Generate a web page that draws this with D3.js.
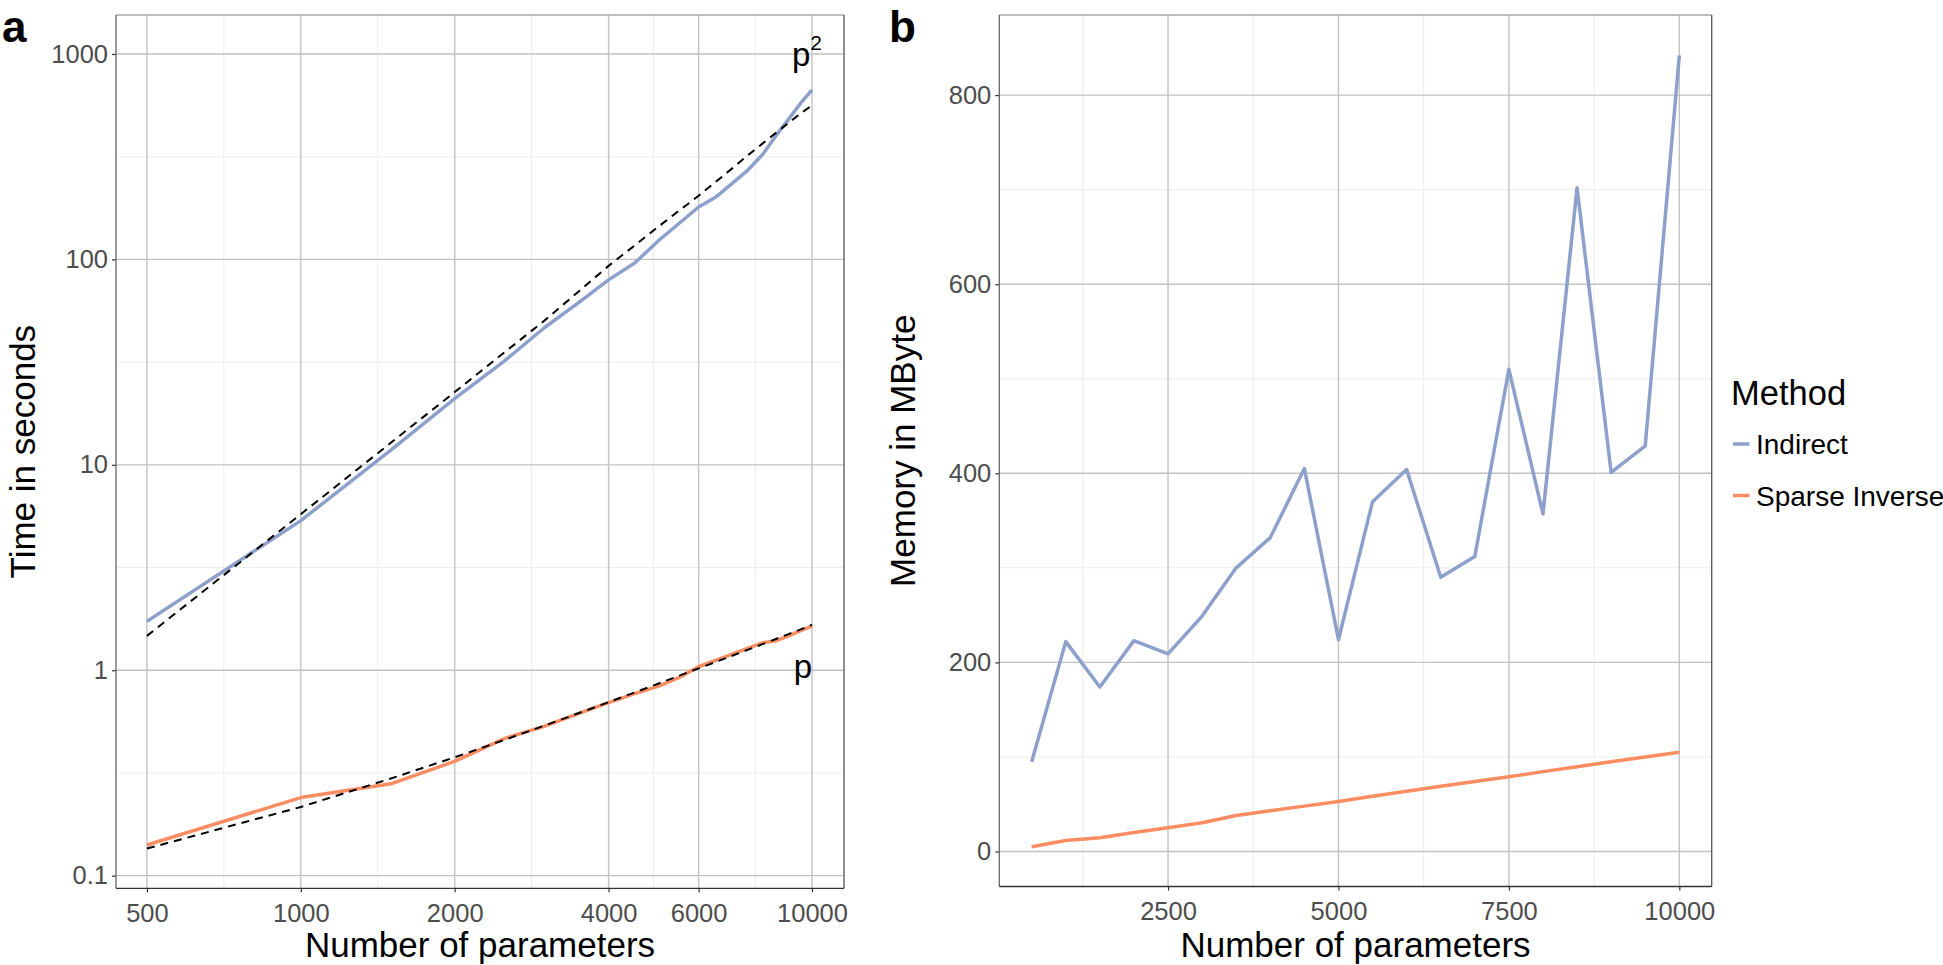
<!DOCTYPE html>
<html><head><meta charset="utf-8">
<script src="https://cdn.jsdelivr.net/npm/d3@7"></script>
<style>
body{margin:0;background:#fff;}
svg{font-family:"Liberation Sans",Arial,Helvetica,sans-serif;}
</style></head>
<body><svg id="chart" width="1943" height="965"></svg>
<script>
// ---- data ----
const params = [500,1000,1500,2000,2500,3000,3500,4000,4500,5000,5500,6000,6500,7000,7500,8000,8500,9000,9500,10000];
const timeIndirect = [1.73,5.35,11.8,21,32,46.6,61.8,79.5,96,123,150,180,202,236,273,323,400,482,576,669];
const timeSparse   = [0.141,0.240,0.280,0.360,0.465,0.535,0.616,0.695,0.769,0.834,0.923,1.04,1.12,1.20,1.28,1.36,1.39,1.47,1.56,1.64];
const refQuadratic = [1.47,5.75,12.8,22.6,35.2,50.5,70,93,117,144,173,204,240,279,322,366,413,462,514,562];
const refLinear    = [0.1355,0.216,0.297,0.377,0.458,0.538,0.619,0.699,0.780,0.860,0.941,1.021,1.10,1.18,1.26,1.34,1.42,1.50,1.58,1.665];
const memIndirect = [95,222,174,223,209,249,300,332,405,224,370,404,290,312,510,357,702,401,429,842];
const memSparse   = [5,11.7,14.5,20.2,25.2,30.5,38,43,48,53,58.5,63.7,69,74,79,84.5,89.7,95,100,105];
const xTicksA = [500,1000,2000,4000,6000,10000];
const xMinorA = [707,1414,2828,4899,7746];
const yTicksA = [0.1,1,10,100,1000];
const yLabelsA = ["0.1","1","10","100","1000"];
const yMinorA = [0.316,3.16,31.6,316];
const xTicksB = [2500,5000,7500,10000];
const xMinorB = [1250,3750,6250,8750];
const yTicksB = [0,200,400,600,800];
const yMinorB = [100,300,500,700];
const methods = ["Indirect","Sparse Inverse"];
const colors = {"Indirect":"#8da0cb","Sparse Inverse":"#fc8d62"};

const svg = d3.select("#chart");

function panel(cfg){
  const g = svg.append("g");
  const [x0,x1] = cfg.x.range(), [y0,y1] = cfg.y.range();
  // minor grid
  g.selectAll(".mx").data(cfg.xMinor).enter().append("line")
    .attr("x1",d=>cfg.x(d)).attr("x2",d=>cfg.x(d)).attr("y1",y1).attr("y2",y0)
    .attr("stroke","#ededed").attr("stroke-width",1);
  g.selectAll(".my").data(cfg.yMinor).enter().append("line")
    .attr("y1",d=>cfg.y(d)).attr("y2",d=>cfg.y(d)).attr("x1",x0).attr("x2",x1)
    .attr("stroke","#ededed").attr("stroke-width",1);
  // major grid
  g.selectAll(".gx").data(cfg.xTicks).enter().append("line")
    .attr("x1",d=>cfg.x(d)).attr("x2",d=>cfg.x(d)).attr("y1",y1).attr("y2",y0)
    .attr("stroke","#c2c2c2").attr("stroke-width",1.4);
  g.selectAll(".gy").data(cfg.yTicks).enter().append("line")
    .attr("y1",d=>cfg.y(d)).attr("y2",d=>cfg.y(d)).attr("x1",x0).attr("x2",x1)
    .attr("stroke","#c2c2c2").attr("stroke-width",1.4);
  // border
  g.append("line").attr("x1",x0).attr("x2",x1).attr("y1",y1).attr("y2",y1).attr("stroke","#a8a8a8").attr("stroke-width",1.3);
  g.append("line").attr("x1",x1).attr("x2",x1).attr("y1",y1).attr("y2",y0).attr("stroke","#555").attr("stroke-width",1.3);
  // axes
  const ax = g.append("g").attr("transform",`translate(0,${y0})`)
    .call(d3.axisBottom(cfg.x).tickValues(cfg.xTicks).tickFormat(d=>String(d)).tickSizeOuter(0).tickSize(4).tickPadding(6));
  const ay = g.append("g").attr("transform",`translate(${x0},0)`)
    .call(d3.axisLeft(cfg.y).tickValues(cfg.yTicks).tickFormat((d,i)=>cfg.yLabels[i]).tickSizeOuter(0).tickSize(4).tickPadding(4));
  [ax,ay].forEach(a=>{
    a.select(".domain").remove();
    a.selectAll(".tick line").attr("stroke","#333").attr("stroke-width",1.2);
    a.selectAll(".tick text").attr("fill","#4d4d4d").style("font-size","25.5px");
  });
  ax.selectAll(".tick text").attr("dy","0.92em");
  g.append("line").attr("x1",x0).attr("x2",x0).attr("y1",y1).attr("y2",y0).attr("stroke","#666").attr("stroke-width",1.3);
  g.append("line").attr("x1",x0).attr("x2",x1).attr("y1",y0).attr("y2",y0).attr("stroke","#333").attr("stroke-width",1.3);
  // titles
  g.append("text").attr("x",(x0+x1)/2).attr("y",957).attr("text-anchor","middle")
    .style("font-size","35px").attr("fill","#000").text(cfg.xTitle);
  g.append("text").attr("transform",`translate(${cfg.yTitleX},${(y0+y1)/2}) rotate(-90)`)
    .attr("text-anchor","middle").style("font-size","35px").attr("fill","#000").text(cfg.yTitle);
  g.append("text").attr("x",cfg.tagX).attr("y",42).style("font-size","44px").style("font-weight","bold").text(cfg.tag);
  return g;
}

// ---- panel a ----
const xA = d3.scaleLog().domain([435,11550]).range([116,844]);
const yA = d3.scaleLog().domain([0.0868,1548]).range([888.3,15]);
const gA = panel({x:xA,y:yA,xTicks:xTicksA,xMinor:xMinorA,yTicks:yTicksA,yLabels:yLabelsA,yMinor:yMinorA,
  xTitle:"Number of parameters",yTitle:"Time in seconds",yTitleX:35,tag:"a",tagX:2});
const lineA = ys => d3.line().x((d,i)=>xA(params[i])).y(d=>yA(d))(ys);
gA.append("path").attr("d",lineA(timeIndirect)).attr("fill","none").attr("stroke",colors["Indirect"]).attr("stroke-width",3.5).attr("stroke-linejoin","round");
gA.append("path").attr("d",lineA(timeSparse)).attr("fill","none").attr("stroke",colors["Sparse Inverse"]).attr("stroke-width",3.5).attr("stroke-linejoin","round");
gA.append("path").attr("d",lineA(refQuadratic)).attr("fill","none").attr("stroke","#000").attr("stroke-width",2).attr("stroke-dasharray","8,6");
gA.append("path").attr("d",lineA(refLinear)).attr("fill","none").attr("stroke","#000").attr("stroke-width",2).attr("stroke-dasharray","8,6");
const p2 = gA.append("text").attr("x",xA(10000)-20).attr("y",66).style("font-size","33px").attr("fill","#000");
p2.append("tspan").text("p");
p2.append("tspan").attr("dy",-16).style("font-size","21px").text("2");
gA.append("text").attr("x",xA(10000)-9).attr("y",678).attr("text-anchor","middle").style("font-size","33px").attr("fill","#000").text("p");

// ---- panel b ----
const xB = d3.scaleLinear().domain([25,10475]).range([999.3,1711.7]);
const yB = d3.scaleLinear().domain([-37,884.7]).range([886.5,15]);
const gB = panel({x:xB,y:yB,xTicks:xTicksB,xMinor:xMinorB,yTicks:yTicksB,yLabels:yTicksB.map(String),yMinor:yMinorB,
  xTitle:"Number of parameters",yTitle:"Memory in MByte",yTitleX:915,tag:"b",tagX:889});
const lineB = ys => d3.line().x((d,i)=>xB(params[i])).y(d=>yB(d))(ys);
gB.append("path").attr("d",lineB(memIndirect)).attr("fill","none").attr("stroke",colors["Indirect"]).attr("stroke-width",3.5).attr("stroke-linejoin","round");
gB.append("path").attr("d",lineB(memSparse)).attr("fill","none").attr("stroke",colors["Sparse Inverse"]).attr("stroke-width",3.5).attr("stroke-linejoin","round");

// ---- legend ----
const lg = svg.append("g");
lg.append("text").attr("x",1731).attr("y",405).style("font-size","34.5px").attr("fill","#000").text("Method");
methods.forEach((m,i)=>{
  const yy = 444 + i*51.5;
  lg.append("line").attr("x1",1733).attr("x2",1749.5).attr("y1",yy).attr("y2",yy).attr("stroke",colors[m]).attr("stroke-width",3.5);
  lg.append("text").attr("x",1756).attr("y",yy+10).style("font-size","28px").attr("fill","#000").text(m);
});
</script></body></html>
